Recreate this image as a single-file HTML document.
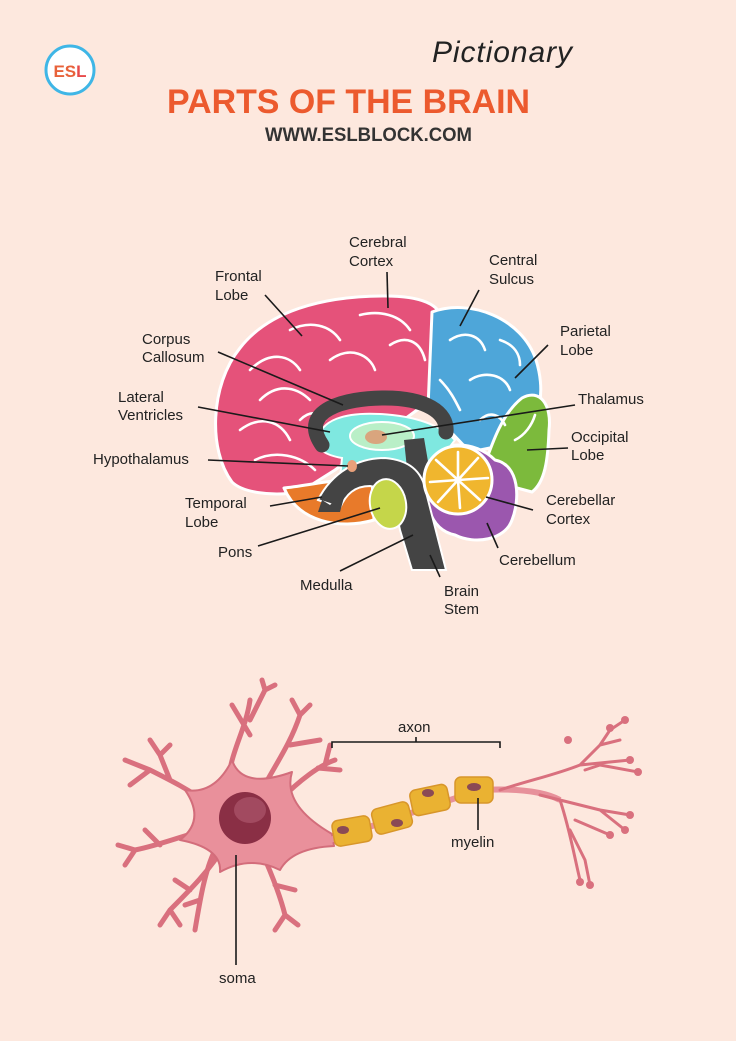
<!DOCTYPE html>
<html><head><meta charset="utf-8"><style>
html,body{margin:0;padding:0;background:#fde8de;}
svg{display:block}
text{font-family:"Liberation Sans",sans-serif;}
.l{font-size:15px;fill:#222}
.ld{stroke:#1a1a1a;stroke-width:1.6;fill:none}
.w{fill:none;stroke:#fff;stroke-width:2.6;stroke-linecap:round}
.d{fill:none;stroke:#d9707e;stroke-linecap:round;stroke-linejoin:round}
</style></head><body>
<svg width="736" height="1041" viewBox="0 0 736 1041" xmlns="http://www.w3.org/2000/svg">
<rect width="736" height="1041" fill="#fde8de"/>
<circle cx="70" cy="70" r="24" fill="#fff" stroke="#3fb6e6" stroke-width="3"/>
<text x="70" y="77" text-anchor="middle" font-size="17" font-weight="bold" fill="#e8623a">ES<tspan fill="#e84a4a">L</tspan></text>
<text x="432" y="62" font-family="Liberation Serif" font-style="italic" font-size="30" fill="#222" textLength="140">Pictionary</text>
<text x="167" y="113" font-size="34" font-weight="bold" fill="#ec5a2e" textLength="363" lengthAdjust="spacingAndGlyphs">PARTS OF THE BRAIN</text>
<text x="265" y="141" font-size="19" font-weight="bold" fill="#333" textLength="207" lengthAdjust="spacingAndGlyphs">WWW.ESLBLOCK.COM</text>

<g stroke="#fff" stroke-width="3" stroke-linejoin="round">
<path d="M232,482 C208,450 210,385 240,348 C268,312 320,296 385,296 C420,296 442,304 442,322 L428,402 L335,470 L300,492 C270,497 242,492 232,482 Z" fill="#e5527a"/>
<path d="M432,312 C470,298 522,318 536,360 C546,392 540,422 520,442 L470,452 L428,408 Z" fill="#4ea6d9"/>
<path d="M522,398 C540,388 552,405 549,430 C548,460 545,482 532,492 L480,478 C490,450 500,415 522,398 Z" fill="#7cba3c"/>
<path d="M284,488 C305,486 340,478 372,478 L374,520 C340,530 298,522 284,488 Z" fill="#e87a2a"/>
<path d="M430,460 C440,440 475,440 495,460 C520,465 520,500 512,520 C505,540 475,545 455,535 C430,530 420,500 430,460 Z" fill="#9b57ae"/>
</g>
<path class="w" d="M250,370 C270,350 290,355 300,370 M260,400 C280,380 300,390 310,400 M240,430 C260,415 280,420 290,440 M255,460 C275,450 300,455 315,470 M290,330 C310,320 330,325 340,340 M330,360 C350,345 370,355 375,370 M360,315 C380,310 400,315 410,330 M390,345 C405,335 420,340 425,360 M300,420 C310,410 320,412 325,420"/>
<path class="w" d="M450,340 C465,330 480,335 485,350 M470,380 C485,370 505,375 510,390 M440,380 C450,390 455,400 460,410 M500,340 C515,345 520,355 520,365 M480,420 C490,410 500,415 505,425"/>
<path class="w" d="M515,440 C525,435 532,425 535,415"/>
<path d="M318,440 C320,420 345,412 380,414 C415,416 440,425 455,440 L440,460 L420,470 L380,462 L360,462 L352,480 L340,478 L342,458 C325,455 318,450 318,440 Z" fill="#7fe8e0" stroke="#fff" stroke-width="2"/>
<ellipse cx="382" cy="436" rx="32" ry="14" fill="#b9efc7" stroke="#fff" stroke-width="2"/>
<ellipse cx="376" cy="437" rx="11" ry="7" fill="#d9a57e"/>
<path d="M322,445 C298,410 345,398 385,398 C425,398 448,412 446,432" fill="none" stroke="#444" stroke-width="15" stroke-linecap="round"/>
<path d="M404,440 L424,438 L432,485 L408,478 Z" fill="#444"/>
<path d="M318,500 C332,472 358,458 385,458 C408,460 422,470 426,492 L446,570 L412,570 L400,530 C395,505 385,488 370,486 C355,486 346,494 340,508 L330,504 Z" fill="#444" stroke="#fff" stroke-width="2"/>
<path d="M346,490 L330,505 L322,500 L318,512 L340,512 Z" fill="#444"/>
<ellipse cx="388" cy="504" rx="18" ry="25" fill="#c5d64a" stroke="#fff" stroke-width="2" transform="rotate(-10 388 504)"/>
<ellipse cx="352" cy="466" rx="5" ry="6" fill="#e8a07a"/>
<circle cx="458" cy="480" r="34" fill="#f0b62e" stroke="#fff" stroke-width="3"/>
<path class="w" stroke-width="2" d="M458,480 L458,452 M458,480 L478,458 M458,480 L488,478 M458,480 L480,500 M458,480 L460,508 M458,480 L438,502 M458,480 L430,482 M458,480 L436,460"/>

<g class="ld">
<path d="M387,272 L388,308"/><path d="M265,295 L302,336"/><path d="M479,290 L460,326"/>
<path d="M218,352 L343,405"/><path d="M548,345 L515,378"/><path d="M198,407 L330,432"/>
<path d="M575,405 L382,435"/><path d="M208,460 L348,466"/><path d="M568,448 L527,450"/>
<path d="M270,506 L322,497"/><path d="M533,510 L486,497"/><path d="M258,546 L380,508"/>
<path d="M498,548 L487,523"/><path d="M340,571 L413,535"/><path d="M440,577 L430,555"/>
</g>
<g class="l">
<text x="349" y="247">Cerebral</text><text x="349" y="266">Cortex</text>
<text x="215" y="281">Frontal</text><text x="215" y="300">Lobe</text>
<text x="489" y="265">Central</text><text x="489" y="284">Sulcus</text>
<text x="142" y="344">Corpus</text><text x="142" y="362">Callosum</text>
<text x="560" y="336">Parietal</text><text x="560" y="355">Lobe</text>
<text x="118" y="402">Lateral</text><text x="118" y="420">Ventricles</text>
<text x="578" y="404">Thalamus</text>
<text x="93" y="464">Hypothalamus</text>
<text x="571" y="442">Occipital</text><text x="571" y="460">Lobe</text>
<text x="185" y="508">Temporal</text><text x="185" y="527">Lobe</text>
<text x="546" y="505">Cerebellar</text><text x="546" y="524">Cortex</text>
<text x="218" y="557">Pons</text>
<text x="499" y="565">Cerebellum</text>
<text x="300" y="590">Medulla</text>
<text x="444" y="596">Brain</text><text x="444" y="614">Stem</text>
</g>

<g class="d" stroke-width="5">
<path d="M230,790 C225,760 245,735 250,700 M250,735 L232,705 M250,720 L265,690 M265,690 L262,680 M265,690 L275,685"/>
<path d="M262,790 C275,765 290,745 300,715 M290,745 L320,740 M300,715 L292,700 M300,715 L310,705"/>
<path d="M280,800 C300,780 320,765 335,760 M318,768 L340,770 M325,765 L330,745"/>
<path d="M210,805 C190,790 170,780 150,770 M170,780 L160,755 M160,755 L150,740 M160,755 L170,745 M150,770 L125,760 M150,770 L130,785"/>
<path d="M205,830 C185,835 160,845 135,850 M160,845 L145,830 M135,850 L118,845 M135,850 L125,865"/>
<path d="M225,845 C210,870 190,890 170,910 M190,890 L175,880 M170,910 L160,925 M170,910 L180,925"/>
<path d="M260,848 C270,870 280,895 285,915 M275,885 L295,890 M285,915 L275,930 M285,915 L298,925"/>
<path d="M215,850 C205,870 200,900 195,930 M200,900 L185,905"/>
</g>
<path d="M232,760 Q242,790 292,772 Q282,805 332,834 L334,846 Q292,848 280,870 Q250,855 220,872 Q222,848 180,840 Q206,820 185,790 Q215,795 232,760 Z" fill="#e9909b" stroke="#d36d7b" stroke-width="2" stroke-linejoin="round"/>
<circle cx="245" cy="818" r="26" fill="#8a2f45"/>
<ellipse cx="250" cy="810" rx="16" ry="13" fill="#a24a60"/>
<path d="M330,840 L480,790 C520,788 545,792 560,800" fill="none" stroke="#e7919b" stroke-width="6"/>
<g class="d" stroke-width="3">
<path d="M500,790 C530,780 555,775 580,765 L600,745 L610,730 M580,765 L630,760 M600,745 L620,740 M610,730 L625,720"/>
<path d="M540,795 C560,800 580,805 600,810 L630,815 M600,810 L625,830 M560,800 C570,830 575,860 580,880 M570,830 L585,860 L590,885 M575,820 L610,835"/>
<path d="M585,770 L600,765 L638,772"/>
</g>
<g fill="#d9707e"><circle cx="610" cy="728" r="4"/><circle cx="625" cy="720" r="4"/><circle cx="568" cy="740" r="4"/><circle cx="630" cy="760" r="4"/><circle cx="638" cy="772" r="4"/><circle cx="630" cy="815" r="4"/><circle cx="625" cy="830" r="4"/><circle cx="610" cy="835" r="4"/><circle cx="590" cy="885" r="4"/><circle cx="580" cy="882" r="4"/></g>
<g fill="#eab232" stroke="#d8962a" stroke-width="1.5">
<rect x="-19" y="-13" width="38" height="26" rx="6" transform="translate(352,831) rotate(-10)"/>
<rect x="-19" y="-13" width="38" height="26" rx="6" transform="translate(392,818) rotate(-15)"/>
<rect x="-19" y="-13" width="38" height="26" rx="6" transform="translate(430,800) rotate(-12)"/>
<rect x="-19" y="-13" width="38" height="26" rx="6" transform="translate(474,790) rotate(0)"/>
</g>
<g fill="#8a4a55"><ellipse cx="343" cy="830" rx="6" ry="4"/><ellipse cx="397" cy="823" rx="6" ry="4"/><ellipse cx="428" cy="793" rx="6" ry="4"/><ellipse cx="474" cy="787" rx="7" ry="4"/></g>
<g class="ld" stroke-width="1.2">
<path d="M332,748 L332,742 L500,742 L500,748 M416,742 L416,737"/>
<path d="M478,798 L478,830"/>
<path d="M236,855 L236,965"/>
</g>
<g class="l">
<text x="398" y="732">axon</text>
<text x="451" y="847">myelin</text>
<text x="219" y="983">soma</text>
</g>
</svg>
</body></html>
